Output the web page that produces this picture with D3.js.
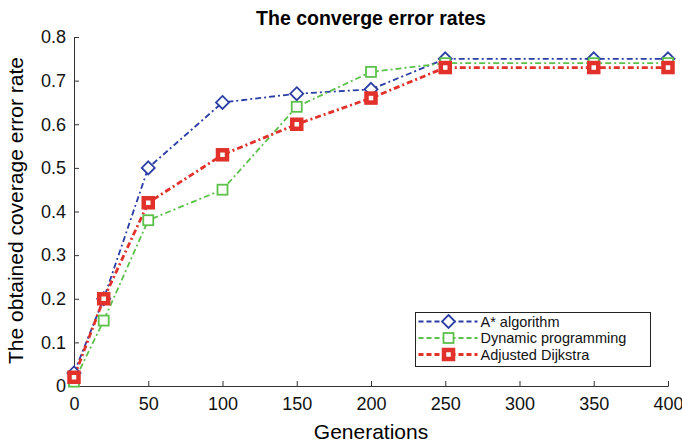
<!DOCTYPE html>
<html>
<head>
<script src="https://d3js.org/d3.v7.min.js"></script>
<style>
  body { margin: 0; background: #fff; }
  text { font-family: "Liberation Sans", Arial, sans-serif; }
</style>
</head>
<body>
<div id="chart"></div>
<script>
const generations = [0, 20, 50, 100, 150, 200, 250, 350, 400];
const aStar = [0.03, 0.2, 0.5, 0.65, 0.67, 0.68, 0.75, 0.75, 0.75];
const dynProg = [0.01, 0.15, 0.38, 0.45, 0.64, 0.72, 0.74, 0.74, 0.74];
const adjDijkstra = [0.02, 0.2, 0.42, 0.53, 0.6, 0.66, 0.73, 0.73, 0.73];
const xTicks = [0, 50, 100, 150, 200, 250, 300, 350, 400];
const yTicks = [0, 0.1, 0.2, 0.3, 0.4, 0.5, 0.6, 0.7, 0.8];

const series = [
  { name: 'A* algorithm', values: aStar, color: '#2b3ea6', width: 1.8, marker: 'diamond' },
  { name: 'Dynamic programming', values: dynProg, color: '#5cc14a', width: 1.8, marker: 'square' },
  { name: 'Adjusted Dijkstra', values: adjDijkstra, color: '#e2302a', width: 2.8, marker: 'squareThick' }
];

const W = 682, H = 443;
const margin = { top: 37, right: 14, bottom: 57, left: 74 };
const width = W - margin.left - margin.right;
const height = H - margin.top - margin.bottom;

const svg = d3.select('#chart').append('svg').attr('width', W).attr('height', H);
const g = svg.append('g').attr('transform', `translate(${margin.left},${margin.top})`);

const x = d3.scaleLinear().domain([0, 400]).range([0, width]);
const y = d3.scaleLinear().domain([0, 0.8]).range([height, 0]);

const xAxis = g.append('g').attr('transform', `translate(0,${height})`)
  .call(d3.axisBottom(x).tickValues(xTicks).tickSizeInner(-5).tickSizeOuter(-5).tickPadding(11).tickFormat(d3.format('d')));
const yAxis = g.append('g')
  .call(d3.axisLeft(y).tickValues(yTicks).tickSizeInner(-5).tickSizeOuter(-5).tickPadding(8).tickFormat(d => d === 0 ? '0' : d3.format('.1f')(d)));
[xAxis, yAxis].forEach(a => {
  a.selectAll('path, line').attr('stroke', '#333');
  a.selectAll('text').attr('font-size', 18).attr('fill', '#111');
});

const line = d3.line().x((d, i) => x(generations[i])).y(d => y(d));

function drawMarker(sel, s, cx, cy) {
  if (s.marker === 'diamond') {
    sel.append('path')
      .attr('d', `M${cx},${cy - 6.5}L${cx + 6.5},${cy}L${cx},${cy + 6.5}L${cx - 6.5},${cy}Z`)
      .attr('fill', '#fff').attr('stroke', s.color).attr('stroke-width', 1.8);
  } else if (s.marker === 'square') {
    sel.append('rect').attr('x', cx - 5).attr('y', cy - 5).attr('width', 10).attr('height', 10)
      .attr('fill', '#fff').attr('stroke', s.color).attr('stroke-width', 1.8);
  } else {
    sel.append('rect').attr('x', cx - 4.5).attr('y', cy - 4.5).attr('width', 9).attr('height', 9)
      .attr('fill', '#fff').attr('stroke', s.color).attr('stroke-width', 4.5);
  }
}

series.forEach(s => {
  g.append('path').datum(s.values).attr('d', line)
    .attr('fill', 'none').attr('stroke', s.color).attr('stroke-width', s.width)
    .attr('stroke-dasharray', '6,3,2,3');
});
series.forEach(s => {
  const mg = g.append('g');
  s.values.forEach((v, i) => drawMarker(mg, s, x(generations[i]), y(v)));
});

// legend
const lg = svg.append('g').attr('transform', 'translate(415.5,312.5)');
lg.append('rect').attr('width', 235).attr('height', 54).attr('fill', '#fff').attr('stroke', '#222').attr('stroke-width', 1);
series.forEach((s, i) => {
  const ly = 9 + i * 16.5;
  lg.append('line').attr('x1', 3).attr('x2', 62).attr('y1', ly).attr('y2', ly)
    .attr('stroke', s.color).attr('stroke-width', s.width).attr('stroke-dasharray', '5,3');
  drawMarker(lg, s, 33, ly);
  lg.append('text').attr('x', 65).attr('y', ly + 5).attr('font-size', 14.5).attr('fill', '#111').text(s.name);
});

svg.append('text').attr('x', margin.left + width / 2).attr('y', 25).attr('text-anchor', 'middle')
  .attr('font-size', 19.5).attr('font-weight', 'bold').text('The converge error rates');
svg.append('text').attr('x', margin.left + width / 2).attr('y', 439).attr('text-anchor', 'middle')
  .attr('font-size', 21).text('Generations');
svg.append('text').attr('transform', `translate(23,${margin.top + height / 2 - 1}) rotate(-90)`)
  .attr('text-anchor', 'middle').attr('font-size', 21).text('The obtained coverage error rate');
</script>
</body>
</html>
